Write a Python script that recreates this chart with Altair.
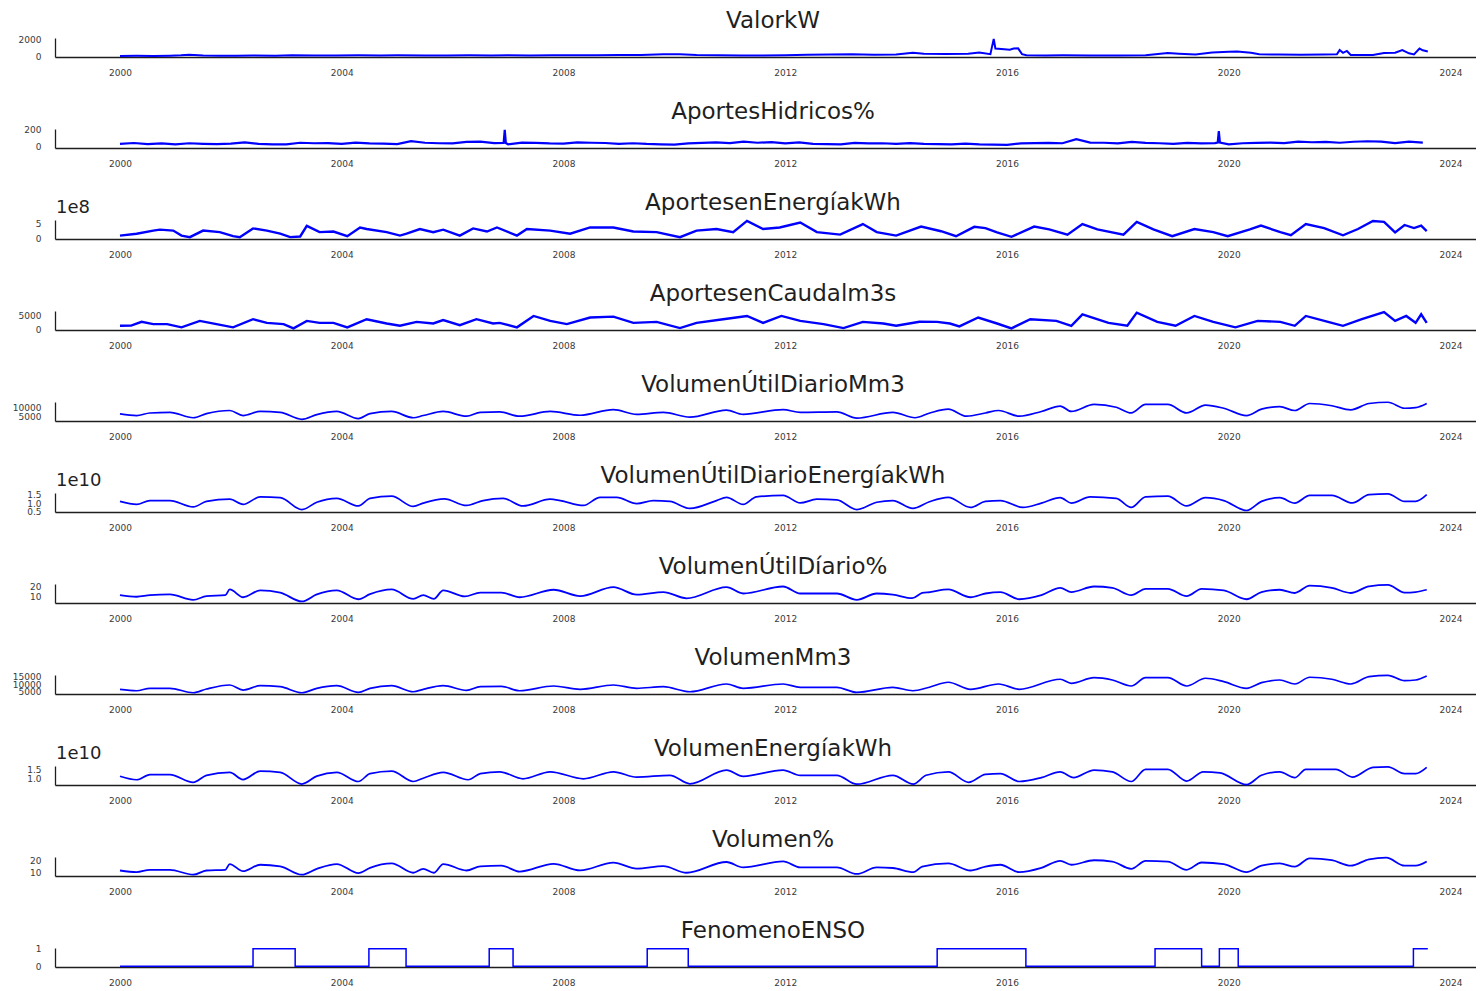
import altair as alt
import pandas as pd

XMIN, XMAX = 1998.828, 2024.459
YEAR_TICKS = [2000, 2004, 2008, 2012, 2016, 2020, 2024]

# ---------------- ValorkW ----------------
valor_t = [2000.0, 2000.3, 2000.6, 2000.9, 2001.1, 2001.25, 2001.5, 2001.8, 2002.1, 2002.4,
           2002.8, 2003.1, 2003.5, 2003.9, 2004.3, 2004.7, 2005.0, 2005.5, 2005.9, 2006.3,
           2006.7, 2007.0, 2007.4, 2007.8, 2008.2, 2008.6, 2009.0, 2009.4, 2009.8, 2010.1,
           2010.4, 2010.8, 2011.2, 2011.6, 2012.0, 2012.4, 2012.8, 2013.2, 2013.6, 2014.0,
           2014.3, 2014.5, 2014.9, 2015.3, 2015.5, 2015.7, 2015.76, 2015.79, 2015.95, 2016.05,
           2016.12, 2016.2, 2016.27, 2016.35, 2016.7, 2017.0, 2017.5, 2018.0, 2018.5, 2018.9,
           2019.1, 2019.4, 2019.7, 2020.0, 2020.15, 2020.4, 2020.55, 2020.9, 2021.3, 2021.7,
           2021.95, 2022.0, 2022.06, 2022.13, 2022.2, 2022.6, 2022.8, 2023.0, 2023.13, 2023.25,
           2023.34, 2023.44, 2023.5, 2023.59]
valor_v = [40, 60, 50, 70, 110, 180, 80, 70, 60, 90,
           70, 110, 90, 100, 120, 90, 110, 90, 100, 120,
           100, 130, 90, 110, 130, 120, 140, 160, 230, 250,
           160, 110, 90, 100, 120, 180, 200, 230, 180, 220,
           420, 300, 280, 300, 430, 250, 2020, 900, 820, 760,
           900, 920, 250, 120, 100, 110, 80, 100, 110, 380,
           300, 220, 450, 520, 560, 400, 250, 200, 180, 220,
           230, 720, 400, 620, 160, 140, 380, 420, 730, 350,
           220, 900, 700, 560]

# ---------------- AportesHidricos% (quarterly) ----------------
hid_q = [35, 45, 32, 40, 30, 42, 36, 33, 38, 52, 34, 30, 28, 48, 42, 44,
         36, 50, 40, 38, 32, 68, 48, 42, 40, 58, 62, 44, 30, 50, 46, 40,
         38, 52, 48, 45, 36, 42, 34, 30, 26, 40, 46, 52, 44, 62, 48, 56,
         40, 52, 36, 32, 30, 46, 40, 42, 34, 44, 36, 32, 30, 38, 28, 26,
         24, 40, 44, 46, 42, 90, 50, 48, 40, 58, 46, 42, 36, 46, 40, 44,
         30, 42, 46, 50, 44, 62, 54, 58, 48, 60, 66, 62, 44, 62, 50]
hid_spike_t = [2006.92, 2006.94, 2006.96, 2019.80, 2019.82, 2019.84]
hid_spike_v = [45, 200, 45, 50, 185, 50]

# ---------------- AportesenEnergíakWh (x1e8) ----------------
ene_t = [2000.0, 2000.3, 2000.6, 2000.72, 2000.96, 2001.11, 2001.26, 2001.5, 2001.8, 2002.04,
         2002.16, 2002.4, 2002.65, 2002.89, 2003.07, 2003.25, 2003.37, 2003.6, 2003.85, 2004.1,
         2004.33, 2004.45, 2004.81, 2005.05, 2005.17, 2005.41, 2005.65, 2005.83, 2006.13, 2006.37,
         2006.62, 2006.8, 2007.16, 2007.34, 2007.76, 2008.12, 2008.48, 2008.9, 2009.26, 2009.68,
         2010.1, 2010.4, 2010.76, 2011.06, 2011.31, 2011.6, 2011.9, 2012.27, 2012.57, 2012.99,
         2013.4, 2013.65, 2014.0, 2014.45, 2014.81, 2015.08, 2015.41, 2015.61, 2015.82, 2016.08,
         2016.49, 2016.76, 2017.09, 2017.36, 2017.63, 2018.1, 2018.34, 2018.64, 2018.98, 2019.38,
         2019.72, 2019.98, 2020.38, 2020.58, 2020.93, 2021.12, 2021.39, 2021.72, 2022.06, 2022.33,
         2022.6, 2022.8, 2023.0, 2023.17, 2023.34, 2023.47, 2023.57]
ene_v = [1.0, 1.6, 2.6, 2.9, 2.6, 1.0, 0.5, 2.6, 2.1, 0.8,
         0.5, 3.3, 2.6, 1.6, 0.5, 0.7, 4.1, 2.1, 2.3, 0.8,
         3.6, 3.1, 2.1, 1.0, 1.6, 3.1, 2.1, 2.9, 1.0, 3.3,
         2.3, 3.6, 1.0, 3.1, 2.6, 1.6, 3.6, 3.6, 2.3, 2.1,
         0.5, 2.6, 3.1, 2.1, 5.7, 3.1, 3.6, 5.2, 2.1, 1.3,
         4.7, 2.1, 1.0, 3.9, 2.4, 0.8, 3.8, 3.4, 2.0, 0.6,
         3.9, 3.0, 1.3, 4.7, 3.0, 1.3, 5.4, 3.0, 0.8, 3.1,
         2.1, 0.8, 3.0, 4.2, 2.1, 1.1, 4.7, 3.4, 1.1, 3.1,
         5.7, 5.4, 2.0, 4.4, 3.4, 4.2, 2.4]

# ---------------- AportesenCaudalm3s ----------------
cau_t = [2000.0, 2000.2, 2000.39, 2000.6, 2000.85, 2001.11, 2001.44, 2001.74, 2002.04, 2002.4,
         2002.65, 2002.95, 2003.13, 2003.37, 2003.6, 2003.85, 2004.1, 2004.45, 2004.81, 2005.05,
         2005.35, 2005.65, 2005.83, 2006.13, 2006.43, 2006.73, 2006.85, 2007.16, 2007.46, 2007.76,
         2008.06, 2008.48, 2008.9, 2009.26, 2009.68, 2010.1, 2010.4, 2010.88, 2011.31, 2011.6,
         2011.93, 2012.27, 2012.69, 2013.05, 2013.4, 2013.77, 2014.0, 2014.42, 2014.74, 2014.97,
         2015.14, 2015.48, 2015.82, 2016.08, 2016.42, 2016.89, 2017.16, 2017.36, 2017.83, 2018.17,
         2018.34, 2018.71, 2019.04, 2019.38, 2019.72, 2020.12, 2020.52, 2020.93, 2021.19, 2021.39,
         2021.79, 2022.06, 2022.4, 2022.8, 2023.0, 2023.2, 2023.37, 2023.47, 2023.57]
cau_v = [1430, 1500, 2860, 2030, 2030, 860, 3210, 2030, 860, 3820,
         2500, 2030, 500, 3210, 2500, 2500, 860, 3820, 2260, 1430,
         2860, 2260, 3500, 1670, 3820, 2260, 2500, 860, 5000, 3210,
         2030, 4430, 4760, 2500, 2860, 600, 2500, 3820, 5000, 2500,
         5000, 3210, 2030, 600, 2860, 2260, 1430, 2900, 2860, 2260,
         1200, 4430, 2260, 500, 3820, 3210, 1430, 5600, 2500, 1430,
         6200, 2860, 1430, 5000, 2860, 860, 3210, 2860, 1430, 5000,
         2860, 1430, 3820, 6400, 3210, 5000, 2500, 5600, 2500]

# ---------------- VolumenÚtilDiarioMm3 ----------------
vum_t = [2000.0, 2000.3, 2000.54, 2000.9, 2001.32, 2001.56, 2001.98, 2002.22, 2002.53, 2002.89,
         2003.28, 2003.55, 2003.91, 2004.30, 2004.51, 2004.90, 2005.29, 2005.47, 2005.83, 2006.25,
         2006.5, 2006.85, 2007.21, 2007.76, 2008.3, 2008.9, 2009.32, 2009.8, 2010.28, 2010.94,
         2011.24, 2011.96, 2012.27, 2012.93, 2013.29, 2013.94, 2014.34, 2014.61, 2014.94, 2015.27,
         2015.61, 2015.85, 2016.22, 2016.62, 2016.96, 2017.16, 2017.57, 2017.97, 2018.24, 2018.5,
         2018.9, 2019.24, 2019.58, 2019.91, 2020.32, 2020.59, 2020.92, 2021.19, 2021.46, 2021.86,
         2022.2, 2022.53, 2022.87, 2023.17, 2023.37, 2023.57]
vum_v = [6330, 5390, 6880, 7220, 4110, 6500, 8330, 5390, 7770, 7220,
         3170, 5940, 7770, 3555, 6500, 7770, 4110, 5390, 7770, 4995,
         7220, 7500, 4995, 7770, 5550, 8880, 6100, 7220, 4440, 8600,
         6100, 8880, 7220, 7500, 3890, 7220, 4110, 6890, 9100, 4995,
         6890, 8330, 4995, 7770, 10930, 7770, 11880, 10220, 6890, 11880,
         11880, 6890, 11490, 9660, 5390, 9100, 10550, 8330, 12430, 11100,
         8720, 12430, 13150, 9660, 10000, 12430]

# ---------------- VolumenÚtilDiarioEnergíakWh (x1e10) ----------------
vue_t = [2000.0, 2000.3, 2000.54, 2000.9, 2001.32, 2001.56, 2001.98, 2002.22, 2002.53, 2002.89,
         2003.28, 2003.55, 2003.91, 2004.30, 2004.51, 2004.90, 2005.29, 2005.47, 2005.85, 2006.25,
         2006.55, 2006.91, 2007.27, 2007.76, 2007.94, 2008.36, 2008.66, 2008.96, 2009.32, 2009.62,
         2009.92, 2010.28, 2010.76, 2010.94, 2011.24, 2011.48, 2011.96, 2012.27, 2012.57, 2012.93,
         2013.29, 2013.65, 2013.94, 2014.30, 2014.6, 2014.94, 2015.34, 2015.61, 2015.88, 2016.29,
         2016.62, 2016.96, 2017.16, 2017.5, 2017.97, 2018.24, 2018.5, 2018.9, 2019.24, 2019.58,
         2019.91, 2020.32, 2020.59, 2020.92, 2021.19, 2021.46, 2021.86, 2022.23, 2022.53, 2022.87,
         2023.17, 2023.37, 2023.57]
vue_v = [1.10, 0.92, 1.15, 1.15, 0.77, 1.10, 1.23, 0.92, 1.37, 1.32,
         0.61, 1.05, 1.28, 0.83, 1.28, 1.41, 0.80, 1.00, 1.25, 0.86,
         1.15, 1.28, 0.83, 1.23, 1.15, 0.86, 1.34, 1.34, 0.97, 1.15,
         1.10, 0.68, 1.15, 1.34, 0.92, 1.37, 1.46, 1.01, 1.23, 1.19,
         0.61, 1.05, 1.15, 0.68, 1.08, 1.34, 0.74, 1.10, 1.15, 0.74,
         1.00, 1.32, 1.00, 1.37, 1.28, 0.74, 1.37, 1.41, 0.83, 1.32,
         1.15, 0.56, 1.10, 1.32, 1.00, 1.46, 1.46, 1.01, 1.50, 1.55,
         1.10, 1.10, 1.50]

# ---------------- VolumenÚtilDíario% ----------------
vup_t = [2000.0, 2000.3, 2000.54, 2000.9, 2001.32, 2001.56, 2001.9, 2001.98, 2002.22, 2002.53,
         2002.89, 2003.28, 2003.55, 2003.91, 2004.30, 2004.51, 2004.90, 2005.29, 2005.47, 2005.66,
         2005.83, 2006.22, 2006.5, 2006.88, 2007.21, 2007.82, 2008.3, 2008.9, 2009.32, 2009.8,
         2010.22, 2010.94, 2011.24, 2011.96, 2012.27, 2012.93, 2013.29, 2013.65, 2013.94, 2014.29,
         2014.47, 2014.61, 2014.94, 2015.34, 2015.61, 2015.88, 2016.22, 2016.62, 2016.96, 2017.16,
         2017.57, 2017.9, 2018.24, 2018.5, 2018.9, 2019.24, 2019.51, 2019.91, 2020.32, 2020.59,
         2020.92, 2021.19, 2021.46, 2021.86, 2022.2, 2022.53, 2022.87, 2023.17, 2023.37, 2023.57]
vup_v = [11.5, 10.0, 11.5, 12.2, 7.0, 10.6, 11.5, 17.0, 9.5, 16.1,
         14.0, 5.5, 12.2, 16.1, 7.6, 12.5, 17.0, 7.9, 11.5, 7.9,
         16.1, 10.3, 14.0, 14.0, 9.5, 16.7, 10.6, 19.2, 12.0, 14.5,
         8.5, 19.2, 13.1, 19.8, 13.1, 13.1, 7.0, 13.1, 12.0, 8.6,
         13.6, 14.5, 17.0, 9.5, 13.1, 14.5, 7.6, 11.5, 18.5, 14.5,
         19.8, 18.5, 11.5, 17.6, 17.6, 10.6, 17.6, 16.1, 7.6, 14.5,
         16.7, 13.6, 20.6, 18.5, 13.6, 20.0, 21.3, 13.9, 14.5, 16.7]

# ---------------- VolumenMm3 ----------------
vm_t = [2000.0, 2000.3, 2000.54, 2000.9, 2001.32, 2001.56, 2001.98, 2002.22, 2002.53, 2002.89,
        2003.28, 2003.55, 2003.91, 2004.30, 2004.51, 2004.90, 2005.29, 2005.47, 2005.83, 2006.25,
        2006.5, 2006.88, 2007.21, 2007.82, 2008.3, 2008.9, 2009.32, 2009.8, 2010.28, 2010.94,
        2011.24, 2011.96, 2012.27, 2012.93, 2013.29, 2013.94, 2014.3, 2014.6, 2014.94, 2015.34,
        2015.85, 2016.22, 2016.96, 2017.16, 2017.57, 2017.9, 2018.24, 2018.5, 2018.9, 2019.24,
        2019.58, 2019.91, 2020.32, 2020.59, 2020.92, 2021.19, 2021.46, 2021.86, 2022.2, 2022.53,
        2022.87, 2023.17, 2023.37, 2023.57]
vm_v = [6600, 5670, 7270, 7270, 4330, 6800, 9470, 6130, 9000, 8330,
        4330, 7270, 9000, 4600, 7270, 9000, 5000, 6600, 9000, 5900,
        8330, 8500, 5670, 8800, 6600, 9470, 7270, 8330, 5000, 10140,
        7270, 10140, 7930, 7930, 4600, 7930, 5670, 8000, 11300, 6600,
        10140, 6600, 13270, 10600, 14340, 12800, 8800, 14340, 14340, 8800,
        13930, 11670, 7270, 11000, 12800, 10140, 14600, 13270, 10140, 15000,
        15800, 12330, 12800, 15470]

# ---------------- VolumenEnergíakWh (x1e10) ----------------
ve_t = [2000.0, 2000.3, 2000.54, 2000.9, 2001.32, 2001.56, 2001.98, 2002.22, 2002.53, 2002.89,
        2003.28, 2003.55, 2003.91, 2004.30, 2004.51, 2004.90, 2005.29, 2005.47, 2005.83, 2006.28,
        2006.5, 2006.85, 2007.27, 2007.76, 2008.36, 2008.9, 2009.32, 2009.92, 2010.28, 2010.94,
        2011.24, 2011.96, 2012.27, 2012.93, 2013.29, 2013.94, 2014.31, 2014.54, 2014.94, 2015.31,
        2015.61, 2015.88, 2016.22, 2016.62, 2016.96, 2017.2, 2017.57, 2017.9, 2018.24, 2018.5,
        2018.9, 2019.24, 2019.54, 2019.84, 2020.32, 2020.59, 2020.92, 2021.19, 2021.39, 2021.93,
        2022.23, 2022.6, 2022.87, 2023.17, 2023.37, 2023.57]
ve_v = [1.13, 0.95, 1.22, 1.22, 0.82, 1.18, 1.33, 0.96, 1.40, 1.33,
        0.73, 1.14, 1.33, 0.86, 1.27, 1.40, 0.86, 1.03, 1.33, 0.95,
        1.27, 1.36, 1.00, 1.36, 1.00, 1.36, 1.09, 1.18, 0.74, 1.45,
        1.13, 1.45, 1.18, 1.18, 0.72, 1.18, 0.73, 1.18, 1.36, 0.82,
        1.23, 1.27, 0.86, 1.06, 1.36, 1.06, 1.45, 1.36, 0.86, 1.49,
        1.49, 0.88, 1.36, 1.31, 0.70, 1.18, 1.36, 1.06, 1.49, 1.49,
        1.09, 1.59, 1.62, 1.27, 1.27, 1.59]

# ---------------- Volumen% ----------------
vp_t = [2000.0, 2000.3, 2000.54, 2000.9, 2001.32, 2001.56, 2001.9, 2001.98, 2002.22, 2002.53,
        2002.89, 2003.28, 2003.55, 2003.91, 2004.30, 2004.51, 2004.90, 2005.29, 2005.47, 2005.66,
        2005.83, 2006.25, 2006.5, 2006.88, 2007.21, 2007.82, 2008.3, 2008.9, 2009.32, 2009.8,
        2010.22, 2010.94, 2011.24, 2011.96, 2012.27, 2012.93, 2013.29, 2013.65, 2013.94, 2014.31,
        2014.47, 2014.94, 2015.34, 2015.61, 2015.88, 2016.22, 2016.62, 2016.96, 2017.16, 2017.57,
        2017.9, 2018.24, 2018.5, 2018.9, 2019.24, 2019.51, 2019.91, 2020.32, 2020.59, 2020.92,
        2021.19, 2021.46, 2021.86, 2022.2, 2022.53, 2022.84, 2023.17, 2023.37, 2023.57]
vp_v = [11.4, 10.0, 12.0, 12.0, 7.9, 11.4, 12.0, 16.8, 10.8, 16.2,
        14.9, 7.9, 12.8, 16.8, 9.2, 13.6, 17.3, 9.5, 12.8, 9.5,
        16.8, 11.4, 14.9, 15.5, 10.5, 17.0, 11.5, 18.0, 13.0, 15.0,
        9.5, 18.5, 14.0, 19.0, 14.0, 14.0, 8.5, 14.0, 13.5, 10.0,
        14.6, 17.3, 11.4, 14.6, 16.2, 10.0, 13.6, 19.5, 16.2, 20.0,
        18.9, 12.8, 19.5, 18.9, 12.0, 18.1, 16.8, 10.0, 15.4, 17.3,
        14.6, 21.6, 20.0, 15.4, 20.8, 22.1, 15.4, 15.4, 18.9]

# ---------------- FenomenoENSO ----------------
enso_t = [2000.0, 2002.40, 2003.16, 2004.49, 2005.16, 2006.66, 2007.09, 2009.51, 2010.25,
          2014.74, 2016.34, 2018.67, 2019.51, 2019.83, 2020.17, 2023.33, 2023.59]
enso_v = [0, 1, 0, 1, 0, 1, 0, 1, 0, 1, 0, 1, 0, 1, 0, 1, 1]

# build hidricos table
hid_t = [2000 + i * 0.25 for i in range(len(hid_q))] + hid_spike_t
hid_v = hid_q + hid_spike_v
hid_df = pd.DataFrame({"t": hid_t, "v": hid_v}).sort_values("t")

panels = [
    dict(title="ValorkW", t=valor_t, v=valor_v, dom=[-80, 2120], ticks=[0, 2000], fmt="d", off=None, interp="linear", sw=2.0),
    dict(title="AportesHidricos%", t=list(hid_df["t"]), v=list(hid_df["v"]), dom=[-14, 211], ticks=[0, 200], fmt="d", off=None, interp="linear", sw=2.2),
    dict(title="AportesenEnergíakWh", t=ene_t, v=ene_v, dom=[-0.1, 6.0], ticks=[0, 5], fmt="d", off="1e8", interp="linear", sw=2.4),
    dict(title="AportesenCaudalm3s", t=cau_t, v=cau_v, dom=[-100, 6800], ticks=[0, 5000], fmt="d", off=None, interp="linear", sw=2.4),
    dict(title="VolumenÚtilDiarioMm3", t=vum_t, v=vum_v, dom=[2200, 13300], ticks=[5000, 10000], fmt="d", off=None, interp="monotone", sw=1.7),
    dict(title="VolumenÚtilDiarioEnergíakWh", t=vue_t, v=vue_v, dom=[0.47, 1.6], ticks=[0.5, 1.0, 1.5], fmt=".1f", off="1e10", interp="monotone", sw=1.7),
    dict(title="VolumenÚtilDíario%", t=vup_t, v=vup_v, dom=[4, 22.2], ticks=[10, 20], fmt="d", off=None, interp="monotone", sw=1.8),
    dict(title="VolumenMm3", t=vm_t, v=vm_v, dom=[3500, 16100], ticks=[5000, 10000, 15000], fmt="d", off=None, interp="monotone", sw=1.7),
    dict(title="VolumenEnergíakWh", t=ve_t, v=ve_v, dom=[0.68, 1.66], ticks=[1.0, 1.5], fmt=".1f", off="1e10", interp="monotone", sw=1.7),
    dict(title="Volumen%", t=vp_t, v=vp_v, dom=[6.8, 22.7], ticks=[10, 20], fmt="d", off=None, interp="monotone", sw=1.8),
    dict(title="FenomenoENSO", t=enso_t, v=enso_v, dom=[-0.05, 1.05], ticks=[0, 1], fmt="d", off=None, interp="step-after", sw=1.5),
]

AX = dict(title=None, ticks=False, grid=False, labelFontSize=9, labelColor="#3a3a3a",
          labelFont="DejaVu Sans", domainColor="#1e1e1e", domainWidth=1.3, labelOverlap=False)

charts = []
for i, p in enumerate(panels):
    df = pd.DataFrame({"t": p["t"], "v": p["v"]})
    line = alt.Chart(df).mark_line(color="#0000ff", strokeWidth=p["sw"], interpolate=p["interp"]).encode(
        x=alt.X("t:Q", scale=alt.Scale(domain=[XMIN, XMAX], nice=False, zero=False),
                axis=alt.Axis(values=YEAR_TICKS, format="d", labelPadding=11, labelFlush=False, **AX)),
        y=alt.Y("v:Q", scale=alt.Scale(domain=p["dom"], nice=False, zero=False),
                axis=alt.Axis(values=p["ticks"], format=p["fmt"], labelPadding=14, **AX)),
    )
    layers = [line]
    tdf = pd.DataFrame({"label": [p["title"]]})
    layers.append(
        alt.Chart(tdf).mark_text(fontSize=23, font="DejaVu Sans", color="#1f1f1f", align="center", baseline="middle")
        .encode(text="label:N", x=alt.value(718), y=alt.value(-17.5))
    )
    if p["off"]:
        odf = pd.DataFrame({"label": [p["off"]]})
        layers.append(
            alt.Chart(odf).mark_text(fontSize=18, font="DejaVu Sans", color="#1f1f1f", align="left", baseline="middle")
            .encode(text="label:N", x=alt.value(1), y=alt.value(-12))
        )
    if i == 0:
        pdf = pd.DataFrame({"a": [0]})
        layers.append(
            alt.Chart(pdf).mark_rule(strokeOpacity=0)
            .encode(x=alt.value(-47), x2=alt.value(-46), y=alt.value(-30), y2=alt.value(-29))
        )
    charts.append(alt.layer(*layers).properties(width=1421, height=19))

chart = (
    alt.vconcat(*charts, spacing=72, bounds="flush")
    .properties(padding=0, autosize=alt.AutoSizeParams(type="pad"))
    .configure(font="DejaVu Sans")
    .configure_view(stroke=None)
)

chart.save("out.html", embed_options={"renderer": "svg", "actions": False})
